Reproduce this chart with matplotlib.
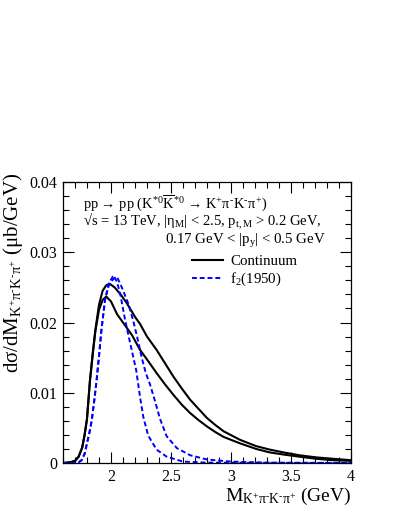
import matplotlib
matplotlib.use("Agg")
import matplotlib.pyplot as plt
from matplotlib.ticker import MultipleLocator
from matplotlib.lines import Line2D

plt.rcParams['font.family'] = ['Liberation Serif', 'DejaVu Serif']
plt.rcParams['mathtext.fontset'] = 'custom'
plt.rcParams['mathtext.rm'] = 'Liberation Serif'
plt.rcParams['mathtext.it'] = 'Liberation Serif'
plt.rcParams['mathtext.bf'] = 'Liberation Serif:bold'

# Continuum, curve A (upper black)
m_cont_a = [1.60, 1.66, 1.70, 1.73, 1.76, 1.78, 1.80, 1.825, 1.85, 1.87, 1.90, 1.93, 1.96, 1.99,
            2.03, 2.08, 2.13, 2.20, 2.242, 2.30, 2.38, 2.45, 2.52, 2.59, 2.66, 2.73, 2.80, 2.87,
            2.94, 3.075, 3.21, 3.325, 3.44, 3.57, 3.71, 3.85, 4.00]
v_cont_a = [0.0, 0.0001, 0.0003, 0.0009, 0.0022, 0.0040, 0.0063, 0.0118, 0.0160, 0.0190, 0.0225,
            0.0245, 0.0253, 0.0255, 0.0250, 0.0240, 0.0228, 0.0208, 0.0198, 0.0180, 0.0161, 0.0142,
            0.0123, 0.0106, 0.0090, 0.0077, 0.0064, 0.0054, 0.0045, 0.0033, 0.0024, 0.0019, 0.0015,
            0.0011, 0.0008, 0.0006, 0.0004]

# Continuum, curve B (lower black)
m_cont_b = [1.60, 1.66, 1.70, 1.73, 1.76, 1.78, 1.80, 1.825, 1.85, 1.87, 1.90, 1.93, 1.96, 2.00,
            2.05, 2.10, 2.175, 2.242, 2.31, 2.38, 2.45, 2.52, 2.59, 2.66, 2.73, 2.80, 2.87, 2.94,
            3.075, 3.21, 3.325, 3.44, 3.57, 3.71, 3.85, 4.00]
v_cont_b = [0.0, 0.0001, 0.0003, 0.0009, 0.0022, 0.0040, 0.0063, 0.0118, 0.0158, 0.0188, 0.0218,
            0.0232, 0.0237, 0.0230, 0.0212, 0.0200, 0.0182, 0.0161, 0.0145, 0.0128, 0.0112, 0.0097,
            0.0083, 0.0071, 0.0061, 0.0052, 0.0044, 0.0037, 0.0028, 0.0020, 0.0015, 0.0012, 0.0009,
            0.0006, 0.0004, 0.0003]

# f2(1950), curve A (narrow blue)
m_f2_a = [1.60, 1.70, 1.73, 1.755, 1.78, 1.80, 1.82, 1.84, 1.86, 1.88, 1.90, 1.92, 1.95, 1.98,
          2.02, 2.05, 2.08, 2.117, 2.158, 2.21, 2.242, 2.27, 2.31, 2.38, 2.464, 2.60, 2.80, 4.00]
v_f2_a = [0.0, 0.0, 0.0001, 0.0004, 0.0013, 0.0028, 0.0043, 0.0061, 0.0088, 0.0118, 0.0152, 0.0189,
          0.0232, 0.0255, 0.0267, 0.0258, 0.0238, 0.0204, 0.0172, 0.0132, 0.0094, 0.0065, 0.0039,
          0.0019, 0.0009, 0.0002, 0.00005, 0.0]

# f2(1950), curve B (wide blue)
m_f2_b = [1.60, 1.70, 1.73, 1.755, 1.78, 1.80, 1.82, 1.84, 1.86, 1.88, 1.90, 1.92, 1.95, 1.98,
          2.02, 2.05, 2.09, 2.144, 2.186, 2.22, 2.256, 2.29, 2.325, 2.367, 2.408, 2.464, 2.55,
          2.66, 2.80, 3.00, 3.30, 4.00]
v_f2_b = [0.0, 0.0, 0.0001, 0.0004, 0.0013, 0.0028, 0.0043, 0.0061, 0.0088, 0.0118, 0.0152, 0.0189,
          0.0232, 0.0252, 0.0262, 0.0265, 0.0250, 0.0227, 0.0202, 0.0178, 0.0150, 0.0128, 0.0112,
          0.0088, 0.0063, 0.0038, 0.0021, 0.0011, 0.0005, 0.0002, 0.00005, 0.0]

legend_labels = ["Continuum", r"f$_{2}$(1950)"]

fig = plt.figure(figsize=(3.99, 5.16), dpi=100)
ax = fig.add_axes([63/399, 53/516, 288/399, 281/516])

black_kw = dict(color='black', lw=1.5)
blue_kw = dict(color='#0000ff', lw=1.4, ls=(0, (2.5, 1.5)))
ax.plot(m_cont_a, v_cont_a, **black_kw)
ax.plot(m_cont_b, v_cont_b, **black_kw)
ax.plot(m_f2_a, v_f2_a, **blue_kw)
ax.plot(m_f2_b, v_f2_b, **blue_kw)

ax.set_xlim(1.6, 4.0)
ax.set_ylim(0, 0.04)
ax.xaxis.set_major_locator(MultipleLocator(0.5))
ax.xaxis.set_minor_locator(MultipleLocator(0.1))
ax.yaxis.set_major_locator(MultipleLocator(0.01))
ax.yaxis.set_minor_locator(MultipleLocator(0.002))
ax.tick_params(which='both', direction='in', top=True, right=True, labelsize=11.5, width=0.8)
ax.tick_params(which='major', length=8, pad=4)
ax.tick_params(which='minor', length=4)
ax.xaxis.set_major_formatter(matplotlib.ticker.FuncFormatter(lambda v, p: ('%g' % v)))
ax.yaxis.set_major_formatter(matplotlib.ticker.FuncFormatter(lambda v, p: ('%g' % v)))
for s in ax.spines.values():
    s.set_linewidth(0.9)

sub = r"_{\mathrm{K^{+}\pi^{\text{-}}K^{\text{-}}\pi^{+}}}"
ax.set_xlabel("M$" + sub + "$ (GeV)", fontsize=14, ha='right')
ax.xaxis.set_label_coords(1.0, -0.082)
ax.set_ylabel("d$\\sigma$/dM$" + sub + "$ ($\\mu$b/GeV)", fontsize=15)
ax.yaxis.set_label_coords(-0.132, 0.676)

fs = 10.7
ax.text(0.069, 0.925,
        "pp \u2192 pp (K$^{*0}\\overline{\\mathrm{K}}^{*0}$ \u2192 K$^{+}\\pi^{\\text{-}}$K$^{\\text{-}}\\pi^{+}$)",
        transform=ax.transAxes, fontsize=10.4, va='center', ha='left')
ax.text(0.069, 0.858, "\u221as = 13 TeV, |$\\eta_{\\mathrm{M}}$| < 2.5, p$_{\\mathrm{t,M}}$ > 0.2 GeV,",
        transform=ax.transAxes, fontsize=10.5, va='center', ha='left')
ax.text(0.354, 0.790, r"0.17 GeV < |p$_{\mathrm{y}}$| < 0.5 GeV",
        transform=ax.transAxes, fontsize=fs, va='center', ha='left')

handles = [Line2D([], [], **black_kw), Line2D([], [], **blue_kw)]
ax.legend(handles, legend_labels, loc='upper left', bbox_to_anchor=(0.448, 0.742),
          frameon=False, fontsize=fs, handlelength=2.1, handletextpad=0.45,
          labelspacing=0.2, borderpad=0, borderaxespad=0)

fig.savefig("out.png", dpi=100)
